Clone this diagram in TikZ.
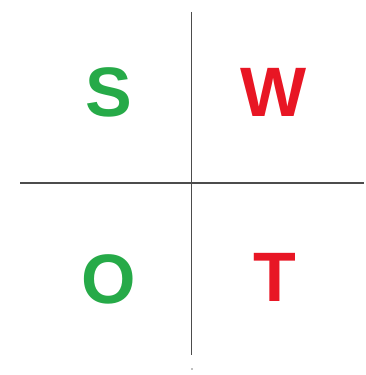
\documentclass[tikz,border=0pt]{standalone}
\usepackage{fontspec}
\setmainfont{Liberation Sans}
\definecolor{swotgreen}{RGB}{38,170,72}
\definecolor{swotred}{RGB}{232,22,36}
\begin{document}
\begin{tikzpicture}[x=1pt, y=1pt,
  letter/.style={anchor=base, inner sep=0pt, font=\fontsize{70}{70}\selectfont\bfseries},
  axis/.style={line width=1.3pt, black!70}]
  \useasboundingbox (0,0) rectangle (366,375);
  
  \coordinate (Top) at (191.5,363);
  \coordinate (Bottom) at (191.5,20);
  \coordinate (Left) at (20,192);
  \coordinate (Right) at (364,192);
  
  \draw[axis] (Top) -- (Bottom);
  \draw[axis] (Left) -- (Right);
  
  \node[letter, swotgreen] (S) at (109,258) {S};
  \node[letter, swotred] (W) at (274,258) {W};
  \node[letter, swotgreen] (O) at (109,71) {O};
  \node[letter, swotred] (T) at (275,73) {T};
  
  \coordinate (Dot) at (192,6);
  \fill[black!50] (Dot) circle (0.8pt);
\end{tikzpicture}
\end{document}
